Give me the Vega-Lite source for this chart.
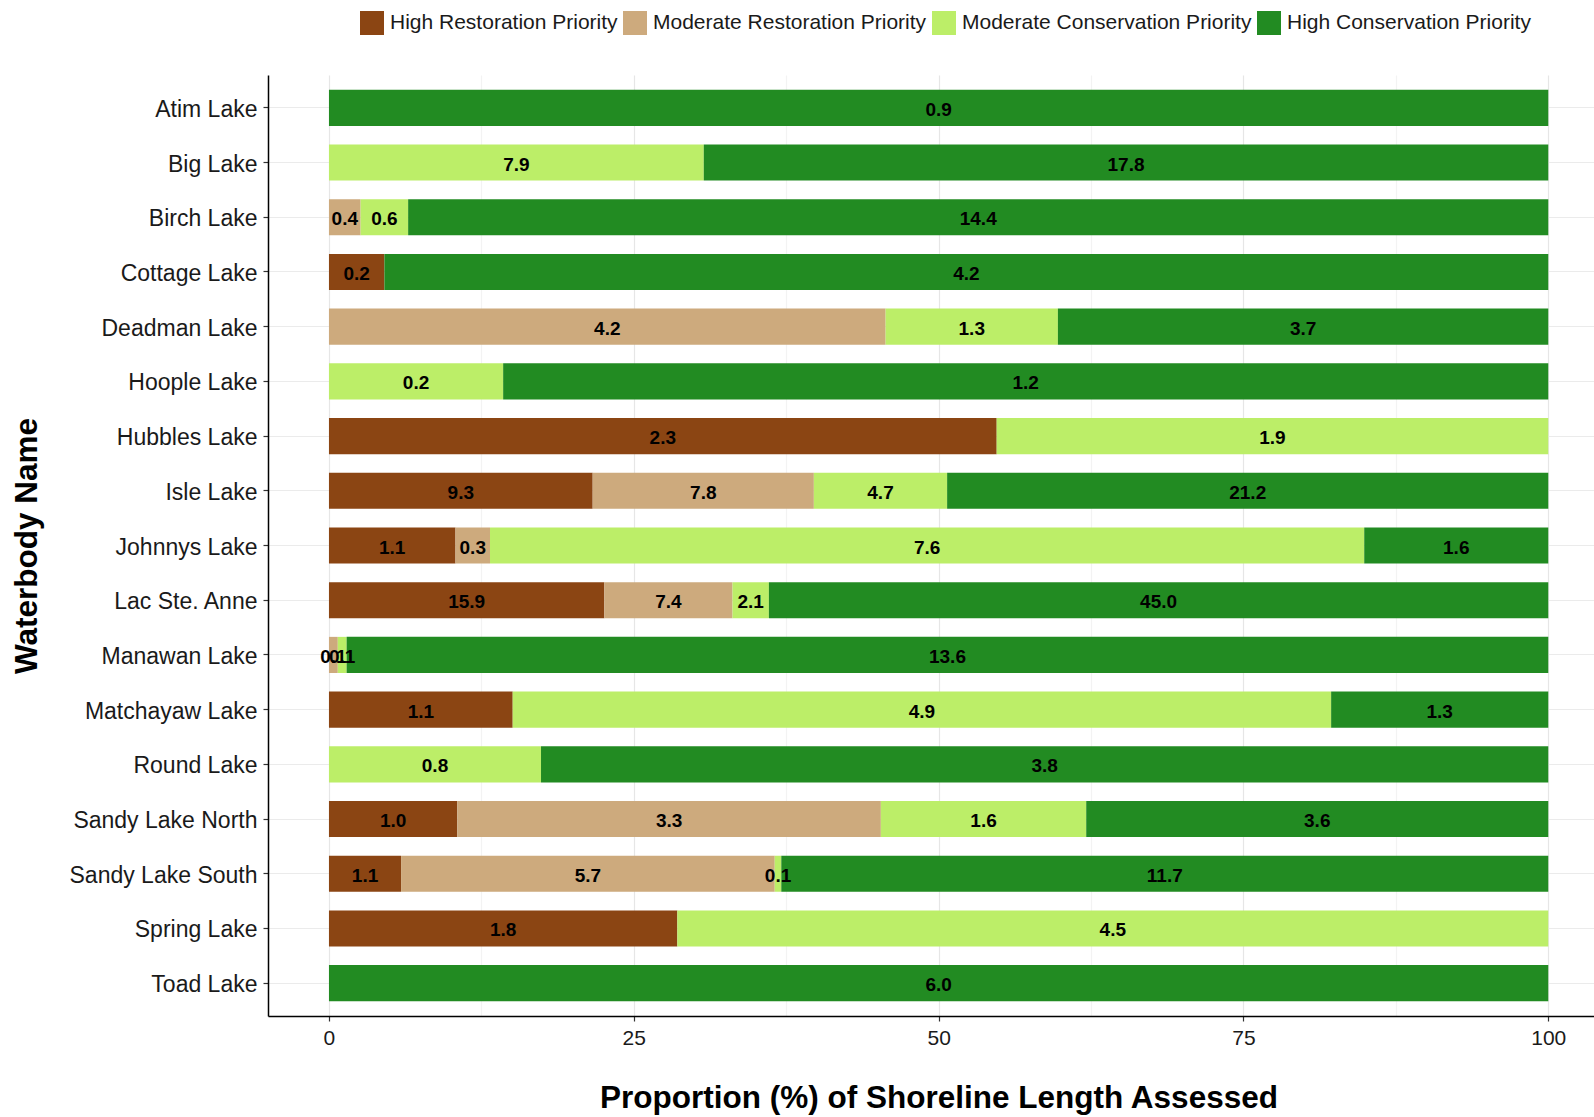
{
  "$schema": "https://vega.github.io/schema/vega-lite/v6.json",
  "width": 1326,
  "height": 941,
  "autosize": {"type": "none"},
  "padding": {"left": 268, "top": 75, "right": 0, "bottom": 101},
  "background": "white",
  "config": {
    "view": {"stroke": null},
    "font": "Liberation Sans"
  },
  "data": {
    "values": [
      {"lake": "Atim Lake", "priority": "High Conservation Priority", "value": 0.9},
      {"lake": "Big Lake", "priority": "Moderate Conservation Priority", "value": 7.9},
      {"lake": "Big Lake", "priority": "High Conservation Priority", "value": 17.8},
      {"lake": "Birch Lake", "priority": "Moderate Restoration Priority", "value": 0.4},
      {"lake": "Birch Lake", "priority": "Moderate Conservation Priority", "value": 0.6},
      {"lake": "Birch Lake", "priority": "High Conservation Priority", "value": 14.4},
      {"lake": "Cottage Lake", "priority": "High Restoration Priority", "value": 0.2},
      {"lake": "Cottage Lake", "priority": "High Conservation Priority", "value": 4.2},
      {"lake": "Deadman Lake", "priority": "Moderate Restoration Priority", "value": 4.2},
      {"lake": "Deadman Lake", "priority": "Moderate Conservation Priority", "value": 1.3},
      {"lake": "Deadman Lake", "priority": "High Conservation Priority", "value": 3.7},
      {"lake": "Hoople Lake", "priority": "Moderate Conservation Priority", "value": 0.2},
      {"lake": "Hoople Lake", "priority": "High Conservation Priority", "value": 1.2},
      {"lake": "Hubbles Lake", "priority": "High Restoration Priority", "value": 2.3},
      {"lake": "Hubbles Lake", "priority": "Moderate Conservation Priority", "value": 1.9},
      {"lake": "Isle Lake", "priority": "High Restoration Priority", "value": 9.3},
      {"lake": "Isle Lake", "priority": "Moderate Restoration Priority", "value": 7.8},
      {"lake": "Isle Lake", "priority": "Moderate Conservation Priority", "value": 4.7},
      {"lake": "Isle Lake", "priority": "High Conservation Priority", "value": 21.2},
      {"lake": "Johnnys Lake", "priority": "High Restoration Priority", "value": 1.1},
      {"lake": "Johnnys Lake", "priority": "Moderate Restoration Priority", "value": 0.3},
      {"lake": "Johnnys Lake", "priority": "Moderate Conservation Priority", "value": 7.6},
      {"lake": "Johnnys Lake", "priority": "High Conservation Priority", "value": 1.6},
      {"lake": "Lac Ste. Anne", "priority": "High Restoration Priority", "value": 15.9},
      {"lake": "Lac Ste. Anne", "priority": "Moderate Restoration Priority", "value": 7.4},
      {"lake": "Lac Ste. Anne", "priority": "Moderate Conservation Priority", "value": 2.1},
      {"lake": "Lac Ste. Anne", "priority": "High Conservation Priority", "value": 45.0},
      {"lake": "Manawan Lake", "priority": "Moderate Restoration Priority", "value": 0.1},
      {"lake": "Manawan Lake", "priority": "Moderate Conservation Priority", "value": 0.1},
      {"lake": "Manawan Lake", "priority": "High Conservation Priority", "value": 13.6},
      {"lake": "Matchayaw Lake", "priority": "High Restoration Priority", "value": 1.1},
      {"lake": "Matchayaw Lake", "priority": "Moderate Conservation Priority", "value": 4.9},
      {"lake": "Matchayaw Lake", "priority": "High Conservation Priority", "value": 1.3},
      {"lake": "Round Lake", "priority": "Moderate Conservation Priority", "value": 0.8},
      {"lake": "Round Lake", "priority": "High Conservation Priority", "value": 3.8},
      {"lake": "Sandy Lake North", "priority": "High Restoration Priority", "value": 1.0},
      {"lake": "Sandy Lake North", "priority": "Moderate Restoration Priority", "value": 3.3},
      {"lake": "Sandy Lake North", "priority": "Moderate Conservation Priority", "value": 1.6},
      {"lake": "Sandy Lake North", "priority": "High Conservation Priority", "value": 3.6},
      {"lake": "Sandy Lake South", "priority": "High Restoration Priority", "value": 1.1},
      {"lake": "Sandy Lake South", "priority": "Moderate Restoration Priority", "value": 5.7},
      {"lake": "Sandy Lake South", "priority": "Moderate Conservation Priority", "value": 0.1},
      {"lake": "Sandy Lake South", "priority": "High Conservation Priority", "value": 11.7},
      {"lake": "Spring Lake", "priority": "High Restoration Priority", "value": 1.8},
      {"lake": "Spring Lake", "priority": "Moderate Conservation Priority", "value": 4.5},
      {"lake": "Toad Lake", "priority": "High Conservation Priority", "value": 6.0}
    ]
  },
  "transform": [
    {"calculate": "indexof(['High Restoration Priority','Moderate Restoration Priority','Moderate Conservation Priority','High Conservation Priority'], datum.priority)", "as": "ord"},
    {"stack": "value", "groupby": ["lake"], "sort": [{"field": "ord", "order": "ascending"}], "offset": "normalize", "as": ["x0", "x1"]},
    {"calculate": "(datum.x0 + datum.x1) / 2", "as": "xm"}
  ],
  "encoding": {
    "y": {
      "field": "lake",
      "type": "nominal",
      "sort": "ascending",
      "scale": {"paddingInner": 0.34, "paddingOuter": 0.27},
      "axis": {
        "title": "Waterbody Name",
        "titleFontSize": 31.5,
        "titleFontWeight": "bold",
        "titleColor": "#000",
        "titleAngle": -90,
        "titleX": -241,
        "titleY": 470.5,
        "titleAlign": "center",
        "titleBaseline": "middle",
        "labelFontSize": 23,
        "labelColor": "#1a1a1a",
        "labelPadding": 6,
        "labelOffset": 2,
        "labelLimit": 400,
        "tickSize": 5,
        "tickColor": "#333",
        "tickWidth": 1.2,
        "domainColor": "#000",
        "domainWidth": 1.5,
        "bandPosition": 0.5,
        "grid": true,
        "gridColor": "#ebebeb",
        "gridWidth": 1.2
      }
    }
  },
  "layer": [
    {
      "mark": {"type": "bar"},
      "encoding": {
        "x": {
          "field": "x0",
          "type": "quantitative",
          "scale": {"domain": [-0.05, 1.0375], "nice": false, "zero": false},
          "axis": {
            "values": [0, 0.125, 0.25, 0.375, 0.5, 0.625, 0.75, 0.875, 1],
            "labelExpr": "indexof([0.125,0.375,0.625,0.875], datum.value) >= 0 ? '' : format(datum.value*100, 'd')",
            "labelFontSize": 21,
            "labelColor": "#1a1a1a",
            "labelPadding": 6,
            "tickSize": 5,
            "tickColor": "#333",
            "tickWidth": 1.2,
            "tickOpacity": {"condition": {"test": "indexof([0.125,0.375,0.625,0.875], datum.value) >= 0", "value": 0}, "value": 1},
            "domainColor": "#000",
            "domainWidth": 1.5,
            "grid": true,
            "gridColor": {"condition": {"test": "indexof([0.125,0.375,0.625,0.875], datum.value) >= 0", "value": "#f3f3f3"}, "value": "#e6e6e6"},
            "gridWidth": 1.2,
            "title": "Proportion (%) of Shoreline Length Assessed",
            "titleFontSize": 31.5,
            "titleFontWeight": "bold",
            "titleColor": "#000",
            "titleX": 670.5,
            "titleY": 82,
            "titleAlign": "center",
            "titleBaseline": "middle"
          }
        },
        "x2": {"field": "x1"},
        "color": {
          "field": "priority",
          "type": "nominal",
          "scale": {
            "domain": ["High Restoration Priority", "Moderate Restoration Priority", "Moderate Conservation Priority", "High Conservation Priority"],
            "range": ["#8B4513", "#CDAA7D", "#BCEE68", "#228B22"]
          },
          "legend": {
            "title": null,
            "orient": "none",
            "legendX": 92,
            "legendY": -64,
            "direction": "horizontal",
            "symbolType": "square",
            "symbolSize": 576,
            "symbolStrokeWidth": 0,
            "symbolOpacity": 1,
            "labelFontSize": 21,
            "labelColor": "#1a1a1a",
            "labelOffset": 6,
            "columnPadding": 5,
            "labelLimit": 400
          }
        }
      }
    },
    {
      "mark": {"type": "text", "fontWeight": "bold", "fontSize": 19, "color": "#000", "baseline": "middle", "align": "center", "dy": 2},
      "encoding": {
        "x": {"field": "xm", "type": "quantitative"},
        "text": {"field": "value", "type": "quantitative", "format": ".1f"}
      }
    }
  ]
}
